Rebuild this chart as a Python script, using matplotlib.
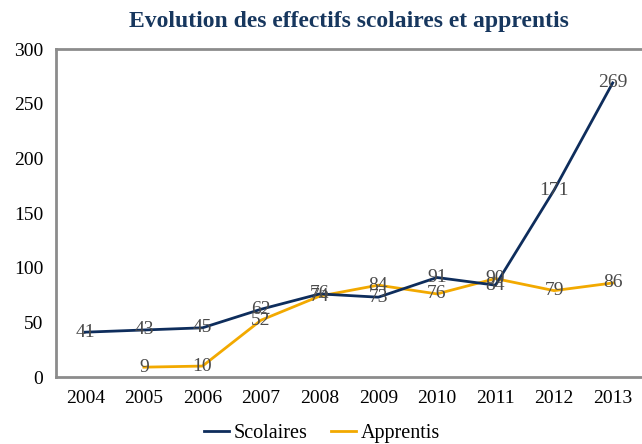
import matplotlib
matplotlib.use("Agg")
import matplotlib.pyplot as plt
import numpy as np

years = ["2004", "2005", "2006", "2007", "2008", "2009", "2010", "2011", "2012", "2013"]
scolaires = [41, 43, 45, 62, 76, 73, 91, 84, 171, 269]
apprentis = [None, 9, 10, 52, 74, 84, 76, 90, 79, 86]
yticks = [0, 50, 100, 150, 200, 250, 300]

plt.rcParams['font.family'] = ['Liberation Serif', 'DejaVu Serif']

W, H = 642, 444
fig = plt.figure(figsize=(W / 100, H / 100), dpi=100)
ax = fig.add_axes([56 / W, 1 - 377 / H, (642 - 56) / W, (377 - 49) / H])

navy = "#0E2D5C"
orange = "#F2A900"
x = np.arange(len(years))
ap = np.array([np.nan if v is None else v for v in apprentis], dtype=float)

ax.plot(x, scolaires, color=navy, lw=2.0, label="Scolaires", zorder=3)
ax.plot(x, ap, color=orange, lw=2.0, label="Apprentis", zorder=2)

for xi, v in zip(x, scolaires):
    ax.text(xi, v, str(v), ha="center", va="center", fontsize=14, color="#4a4a4a", zorder=5)
for xi, v in zip(x, apprentis):
    if v is not None:
        ax.text(xi, v, str(v), ha="center", va="center", fontsize=14, color="#4a4a4a", zorder=5)

ax.set_xlim(-0.5, len(years) - 0.5)
ax.set_ylim(0, 300)
ax.set_yticks(yticks)
ax.set_xticks(x)
ax.set_xticklabels(years)
ax.tick_params(axis="both", length=0, labelsize=14, colors="#000000")
ax.tick_params(axis="y", pad=9)
ax.tick_params(axis="x", pad=9)

for s in ["left", "top", "bottom"]:
    ax.spines[s].set_color("#8c8c8c")
    ax.spines[s].set_linewidth(2)
ax.spines["right"].set_visible(False)

fig.text(349 / W, 1 - 22 / H, "Evolution des effectifs scolaires et apprentis",
         ha="center", va="center", fontsize=17, fontweight="bold", color="#17375E")

leg = fig.legend(loc="center", bbox_to_anchor=(322 / W, 1 - 433 / H), ncol=2, frameon=False,
                 fontsize=14.5, handlelength=1.25, columnspacing=1.15, handletextpad=0.25)

fig.savefig("out.png", dpi=100)
